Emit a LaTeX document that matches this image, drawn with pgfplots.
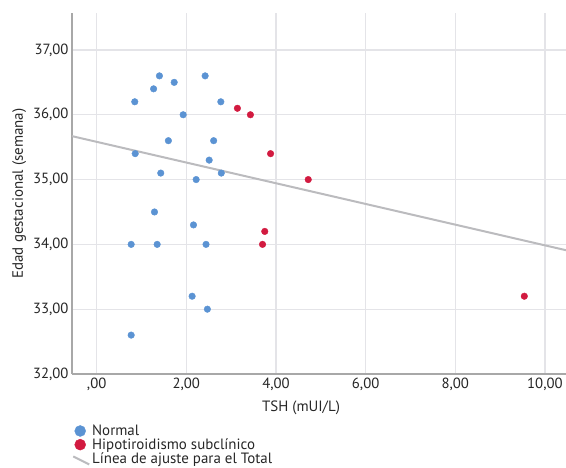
\documentclass[border=0pt]{standalone}
\usepackage{fontspec}
\setmainfont{PT Sans}
\usepackage{pgfplots}
\pgfplotsset{compat=1.18}

\definecolor{ptblue}{HTML}{5B93D3}
\definecolor{ptred}{HTML}{D21A40}
\definecolor{gridgray}{HTML}{E4E4E8}
\definecolor{axisgray}{HTML}{A8A8A8}
\definecolor{fitgray}{HTML}{BBBBBE}

\begin{document}
\begin{tikzpicture}[font=\fontsize{15}{17}\selectfont]
\begin{axis}[
    name=ax,
    scale only axis,
    width=494bp, height=361bp,
    xmin=-0.55, xmax=10.47,
    ymin=32, ymax=37.57,
    axis x line*=bottom, axis y line*=left,
    axis line style={axisgray, line width=1.6bp, -},
    xtick={0,2,4,6,8,10},
    xticklabels={{,00},{2,00},{4,00},{6,00},{8,00},{10,00}},
    ytick={32,33,34,35,36,37},
    yticklabels={{32,00},{33,00},{34,00},{35,00},{36,00},{37,00}},
    major tick length=0pt,
    tick label style={font=\fontsize{14.8}{16}\selectfont, text=black!85},
    /pgf/number format/assume math mode=true,
    xmajorgrids, ymajorgrids,
    grid style={gridgray, line width=1.3bp},
    xlabel={TSH (mUI/L)},
    ylabel={Edad gestacional (semana)},
    xlabel style={xshift=-18bp, yshift=-4bp},
    label style={text=black!85},
    legend style={at={(0,-0.135)}, anchor=north west, draw=none, fill=none,
      font=\fontsize{15}{17}\selectfont, text=black!85, row sep=-2.5bp,
      cells={anchor=west}, inner sep=0pt},
    legend cell align=left,
    clip=false,
]
\addplot[only marks, mark=*, mark size=3.3bp, color=ptblue,
  legend image code/.code={\fill[ptblue] (5bp,0) circle (5.5bp);}]
  coordinates {
  (0.85,36.2) (1.40,36.6) (1.27,36.4) (1.73,36.5) (2.42,36.6) (2.77,36.2)
  (1.93,36.0) (1.60,35.6) (2.61,35.6) (0.86,35.4) (2.51,35.3) (1.43,35.1)
  (2.78,35.1) (2.22,35.0) (1.29,34.5) (2.16,34.3) (0.77,34.0) (1.35,34.0)
  (2.44,34.0) (2.13,33.2) (2.47,33.0) (0.77,32.6)
  };
\addlegendentry{Normal}
\addplot[only marks, mark=*, mark size=3.3bp, color=ptred,
  legend image code/.code={\fill[ptred] (5bp,0) circle (5.5bp);}]
  coordinates {
  (3.14,36.1) (3.43,36.0) (3.88,35.4) (4.72,35.0) (3.75,34.2) (3.70,34.0)
  (9.54,33.2)
  };
\addlegendentry{Hipotiroidismo subclínico}
\addplot[fitgray, line width=2bp,
  legend image code/.code={\draw[fitgray, line width=2bp] (-2bp,2bp) -- (14bp,-6bp);}]
  coordinates {(-0.55,35.67) (10.47,33.91)};
\addlegendentry{Línea de ajuste para el Total}
\end{axis}
\pgfresetboundingbox
\path ([xshift=-72bp,yshift=13bp]ax.north west) rectangle ([yshift=-94bp]ax.south east);
\end{tikzpicture}
\end{document}
